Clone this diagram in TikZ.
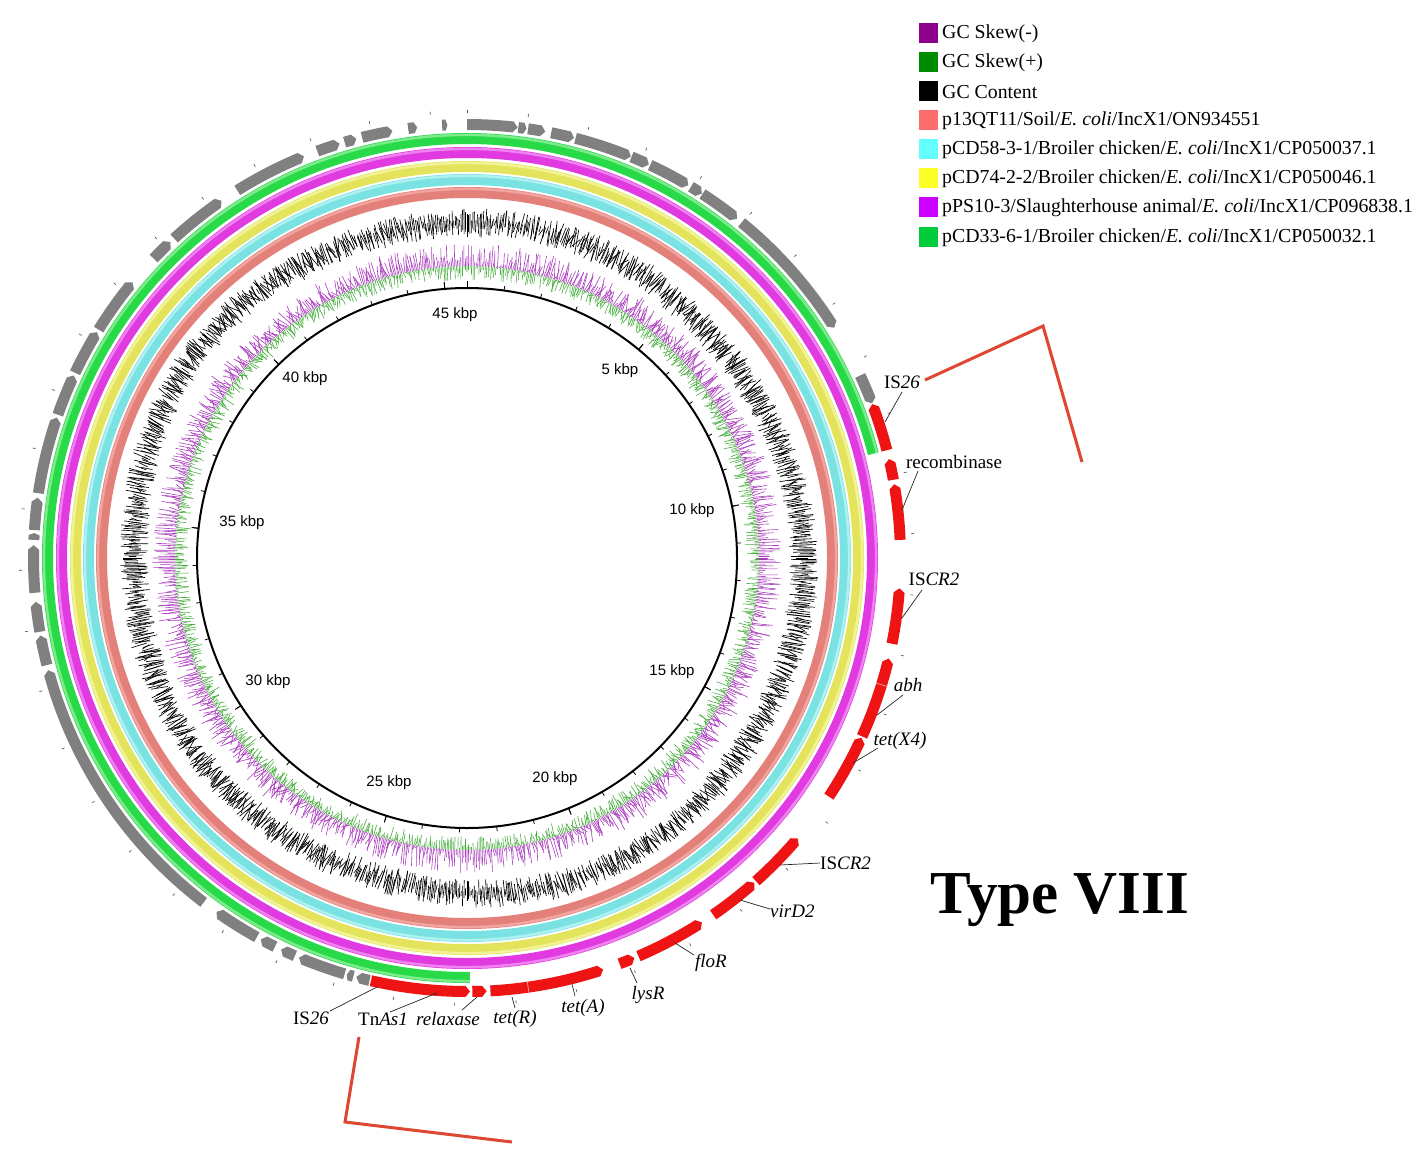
\documentclass[tikz,border=0pt]{standalone}
\usepackage{fontspec}
\setmainfont{Liberation Serif}
\newfontfamily\kbpfont{Liberation Sans}
\definecolor{ringsal}{RGB}{228,128,122}
\definecolor{ringsalh}{RGB}{240,165,160}
\definecolor{ringcyan}{RGB}{122,226,226}
\definecolor{ringcyanh}{RGB}{175,240,240}
\definecolor{ringyel}{RGB}{228,228,92}
\definecolor{ringyelh}{RGB}{242,242,150}
\definecolor{ringmag}{RGB}{224,58,224}
\definecolor{ringmagh}{RGB}{238,130,238}
\definecolor{ringgrn}{RGB}{40,218,72}
\definecolor{ringgrnh}{RGB}{125,235,140}
\definecolor{genered}{RGB}{238,20,20}
\definecolor{genegray}{RGB}{128,128,128}
\definecolor{skewneg}{RGB}{170,60,190}
\definecolor{skewpos}{RGB}{70,175,60}
\definecolor{brack}{RGB}{222,72,50}
\definecolor{lgneg}{RGB}{140,0,140}
\definecolor{lgpos}{RGB}{0,140,0}
\definecolor{lgsal}{RGB}{255,110,110}
\definecolor{lgcyan}{RGB}{100,255,255}
\definecolor{lgyel}{RGB}{255,255,40}
\definecolor{lgmag}{RGB}{204,0,255}
\definecolor{lggrn}{RGB}{0,204,60}
% gene with tip at clockwise end
\newcommand\genecw[3]{%
  \pgfmathsetmacro\gnA{#1-90}\pgfmathsetmacro\gnB{#2-90}%
  \pgfmathsetmacro\gnC{\gnB-min(0.6,(#2-#1)/3)}%
  \fill[#3] (\gnA:439) arc[start angle=\gnA, end angle=\gnC, radius=439] -- (\gnB:433.5) -- (\gnC:428) arc[start angle=\gnC, end angle=\gnA, radius=428] -- cycle;}
% gene with tip at counter-clockwise end
\newcommand\geneccw[3]{%
  \pgfmathsetmacro\gnA{#1-90}\pgfmathsetmacro\gnB{#2-90}%
  \pgfmathsetmacro\gnC{\gnA+min(0.6,(#2-#1)/3)}%
  \fill[#3] (\gnA:433.5) -- (\gnC:439) arc[start angle=\gnC, end angle=\gnB, radius=439] -- (\gnB:428) arc[start angle=\gnB, end angle=\gnC, radius=428] -- cycle;}
\begin{document}
\begin{tikzpicture}[x=1pt,y=-1pt,
  lbl/.style={font=\fontsize{19}{22}\selectfont, inner sep=0pt},
  kbp/.style={font=\kbpfont\fontsize{15}{18}\selectfont, inner sep=0pt},
  leader/.style={draw=black!85, line width=0.7},
  legsq/.style={minimum width=19, minimum height=20, inner sep=0pt, outer sep=0pt},
  legtx/.style={font=\fontsize{19.8}{22}\selectfont, inner sep=0pt, anchor=west},
  brackline/.style={draw=brack, line width=3, line join=miter}]
\useasboundingbox[fill=white] (0,0) rectangle (1418,1151);

\begin{scope}[shift={(467,558)}]
  \pgfmathsetseed{11}
  % GC skew
  \foreach \t in {0,0.3,...,359.8}{
    \draw[skewneg, line width=0.6] (\t:292) -- (\t:{292+rnd*22+1});
    \draw[skewpos, line width=0.6] (\t:292) -- (\t:{292-rnd*14});
  }
  % GC content
  \foreach \t in {0,0.25,...,359.9}{
    \pgfmathsetmacro\core{335+3*sin(2*\t)+2*cos(5*\t)}
    \draw[black, line width=0.65] (\t:{\core-rnd*13-1.5}) -- (\t:{\core+rnd*13+1.5});
  }
  % inner circle and ticks
  \draw[line width=2] (0,0) circle[radius=270];
  \foreach \k in {0,...,45}{
    \draw[line width=0.8] ({\k*7.895-90}:270) -- ({\k*7.895-90}:274.5);
    \draw[line width=0.6, black!70] ({\k*7.895-90}:445) -- ({\k*7.895-90}:448);
  }
  \foreach \k in {0,5,...,45}{
    \draw[line width=1] ({\k*7.895-90}:270) -- ({\k*7.895-90}:277);
  }
  % BLAST rings
  \foreach \r/\c/\h in {365.5/ringsal/ringsalh, 378.5/ringcyan/ringcyanh, 391.5/ringyel/ringyelh, 405.5/ringmag/ringmagh}{
    \draw[line width=11, \c] (0,0) circle[radius=\r];
    \draw[line width=2.5, \h] (0,0) circle[radius=\r+3.6];
  }
  \draw[line width=11, ringgrn] (89.6:419.5) arc[start angle=89.6, end angle=345.6, radius=419.5];
  \draw[line width=2.5, ringgrnh] (89.6:423.1) arc[start angle=89.6, end angle=345.6, radius=423.1];
  % gray genes
  \genecw{193}{194.8}{genegray}
  \genecw{195.2}{196.1}{genegray}
  \genecw{196.4}{202.8}{genegray}
  \genecw{203.4}{205.4}{genegray}
  \genecw{206.3}{208.4}{genegray}
  \genecw{209}{215.3}{genegray}
  \genecw{217.4}{255}{genegray}
  \genecw{255.7}{259.7}{genegray}
  \genecw{260.2}{264.2}{genegray}
  \genecw{265.4}{271.7}{genegray}
  \genecw{272.4}{273.3}{genegray}
  \genecw{273.7}{278}{genegray}
  \genecw{278.6}{288.9}{genegray}
  \genecw{289.3}{294.9}{genegray}
  \genecw{295.3}{301.4}{genegray}
  \genecw{301.8}{309.5}{genegray}
  \genecw{313.7}{316.8}{genegray}
  \genecw{317.5}{325.5}{genegray}
  \genecw{328}{337.9}{genegray}
  \genecw{339.8}{342.9}{genegray}
  \genecw{343.6}{345.2}{genegray}
  \genecw{346}{350.1}{genegray}
  \genecw{352.2}{353.4}{genegray}
  \genecw{356.7}{357.4}{genegray}
  \genecw{360}{366.7}{genegray}
  \genecw{366.8}{367.9}{genegray}
  \genecw{368.1}{370.4}{genegray}
  \genecw{371.2}{374.3}{genegray}
  \genecw{374.5}{382.2}{genegray}
  \genecw{382.3}{384.8}{genegray}
  \genecw{385}{390.7}{genegray}
  \genecw{391.1}{392.8}{genegray}
  \genecw{392.9}{398.5}{genegray}
  \genecw{399.3}{417.9}{genegray}
  \genecw{425.1}{429.1}{genegray}
  % red genes
  \geneccw{69.2}{75.6}{genered}
  \geneccw{76.8}{79.6}{genered}
  \geneccw{80.2}{87.6}{genered}
  \geneccw{94}{101.4}{genered}
  \geneccw{103.4}{114.3}{genered}
  \draw[white!70!genered, line width=0.6] (17:428) -- (17:439);
  \geneccw{114.5}{123.4}{genered}
  \geneccw{130.3}{138.2}{genered}
  \geneccw{138.5}{145.4}{genered}
  \geneccw{147.2}{156.7}{genered}
  \geneccw{157.3}{159.4}{genered}
  \geneccw{161.7}{176.9}{genered}
  \draw[white!70!genered, line width=0.6] (81.9:428) -- (81.9:439);
  \geneccw{177.4}{179.3}{genered}
  \geneccw{179.6}{192.8}{genered}
\end{scope}

% kbp labels
\node[kbp] (k45) at (455,315) {45 kbp};
\node[kbp] (k5) at (620,371) {5 kbp};
\node[kbp] (k10) at (692,511) {10 kbp};
\node[kbp] (k15) at (672,672) {15 kbp};
\node[kbp] (k20) at (555,779) {20 kbp};
\node[kbp] (k25) at (389,783) {25 kbp};
\node[kbp] (k30) at (268,682) {30 kbp};
\node[kbp] (k35) at (242,523) {35 kbp};
\node[kbp] (k40) at (305,379) {40 kbp};

% gene labels
\node[lbl] (tIS26a) at (902,382) {IS\textit{26}};
\node[lbl] (trec) at (954,462) {recombinase};
\node[lbl] (tISCRa) at (934,579) {IS\textit{CR2}};
\node[lbl] (tabh) at (908,685) {\textit{abh}};
\node[lbl] (ttetX) at (900,741) {\textit{tet(X4)}};
\node[lbl, anchor=west] (tISCRb) at (820,863) {IS\textit{CR2}};
\node[lbl, anchor=west] (tvir) at (770,911) {\textit{virD2}};
\node[lbl] (tflo) at (711,963) {\textit{floR}};
\node[lbl] (tlys) at (648,995) {\textit{lysR}};
\node[lbl] (ttetA) at (583,1008) {\textit{tet(A)}};
\node[lbl] (ttetR) at (515,1019) {\textit{tet(R)}};
\node[lbl] (trel) at (448,1019) {\textit{relaxase}};
\node[lbl] (tTn) at (383,1019) {Tn\textit{As1}};
\node[lbl] (tIS26b) at (311,1018) {IS\textit{26}};

% leader end points
\coordinate (a1) at (902,392); \coordinate (b1) at (885,422);
\coordinate (a2) at (918,471); \coordinate (b2) at (902,510);
\coordinate (a3) at (922,590); \coordinate (b3) at (902,618);
\coordinate (a4) at (903,695); \coordinate (b4) at (877,715);
\coordinate (a5) at (878,748); \coordinate (b5) at (853,763);
\coordinate (b6) at (780,865);
\coordinate (a7) at (770,909); \coordinate (b7) at (740,900);
\coordinate (a8) at (694,955); \coordinate (b8) at (675,943);
\coordinate (a9) at (637,983); \coordinate (b9) at (630,968);
\coordinate (a10) at (575,996); \coordinate (b10) at (572,984);
\coordinate (a11) at (515,1008); \coordinate (b11) at (512,997);
\coordinate (a12) at (462,1010); \coordinate (b12) at (477,997);
\coordinate (a13) at (390,1012); \coordinate (b13) at (437,993);
\coordinate (a14) at (330,1011); \coordinate (b14) at (377,987);
\draw[leader] (a1) -- (b1);
\draw[leader] (a2) -- (b2);
\draw[leader] (a3) -- (b3);
\draw[leader] (a4) -- (b4);
\draw[leader] (a5) -- (b5);
\draw[leader] (tISCRb.west) -- (b6);
\draw[leader] (a7) -- (b7);
\draw[leader] (a8) -- (b8);
\draw[leader] (a9) -- (b9);
\draw[leader] (a10) -- (b10);
\draw[leader] (a11) -- (b11);
\draw[leader] (a12) -- (b12);
\draw[leader] (a13) -- (b13);
\draw[leader] (a14) -- (b14);

% red brackets
\coordinate (p1) at (925,380); \coordinate (p2) at (1043,326); \coordinate (p3) at (1082,462);
\draw[brackline] (p1) -- (p2) -- (p3);
\coordinate (q1) at (359,1037); \coordinate (q2) at (345,1122); \coordinate (q3) at (512,1142);
\draw[brackline] (q1) -- (q2) -- (q3);

% title
\node[font=\fontsize{61}{70}\selectfont\bfseries, inner sep=0pt] (title) at (1060,900) {Type VIII};

% legend
\node[legsq, fill=lgneg] (s1) at (928.5,33) {};
\node[legsq, fill=lgpos] (s2) at (928.5,62) {};
\node[legsq, fill=black] (s3) at (928.5,91) {};
\node[legsq, fill=lgsal] (s4) at (928.5,120) {};
\node[legsq, fill=lgcyan] (s5) at (928.5,149) {};
\node[legsq, fill=lgyel] (s6) at (928.5,178) {};
\node[legsq, fill=lgmag] (s7) at (928.5,207) {};
\node[legsq, fill=lggrn] (s8) at (928.5,237) {};
\node[legtx] (l1) at (942,34) {GC Skew(-)};
\node[legtx] (l2) at (942,63) {GC Skew(+)};
\node[legtx] (l3) at (942,92) {GC Content};
\node[legtx] (l4) at (942,121) {p13QT11/Soil/\textit{E. coli}/IncX1/ON934551};
\node[legtx] (l5) at (942,150) {pCD58-3-1/Broiler chicken/\textit{E. coli}/IncX1/CP050037.1};
\node[legtx] (l6) at (942,179) {pCD74-2-2/Broiler chicken/\textit{E. coli}/IncX1/CP050046.1};
\node[legtx] (l7) at (942,208) {pPS10-3/Slaughterhouse animal/\textit{E. coli}/IncX1/CP096838.1};
\node[legtx] (l8) at (942,238) {pCD33-6-1/Broiler chicken/\textit{E. coli}/IncX1/CP050032.1};
\end{tikzpicture}
\end{document}
